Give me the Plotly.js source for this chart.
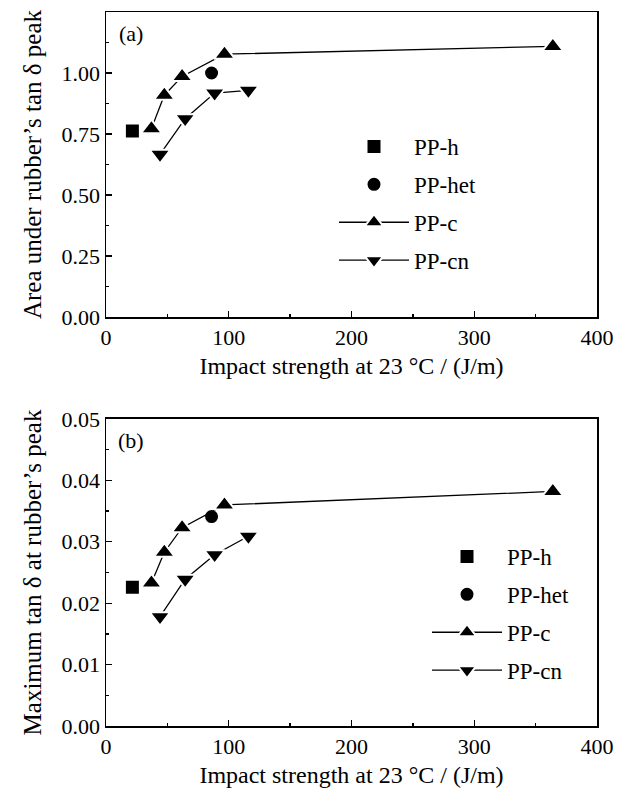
<!DOCTYPE html>
<html>
<head>
<meta charset="utf-8">
<script src="https://cdn.plot.ly/plotly-3.0.1.min.js"></script>
<style>html,body{margin:0;padding:0;background:#fff;}#chart{width:624px;height:797px;}</style>
</head>
<body>
<div id="chart"></div>
<script>
// ---- data ----
const ppH_x = [21.5];
const ppHet_x = [86];
const ppC_x = [37, 47.5, 62, 96.5, 364];
const ppCn_x = [44, 64.5, 88.5, 116];

// panel (a): area under rubber's tan delta peak
const a_ppH = [0.762];
const a_ppHet = [1.0];
const a_ppC = [0.772, 0.909, 0.986, 1.077, 1.109];
const a_ppCn = [0.667, 0.813, 0.918, 0.929];

// panel (b): maximum tan delta at rubber's peak
const b_ppH = [0.0226];
const b_ppHet = [0.0341];
const b_ppC = [0.0233, 0.0283, 0.0323, 0.0360, 0.0382];
const b_ppCn = [0.0178, 0.0239, 0.0279, 0.0309];

const names = ['PP-h', 'PP-het', 'PP-c', 'PP-cn'];
const xTitle = 'Impact strength at 23 °C / (J/m)';
const yTitleA = 'Area under rubber’s tan δ peak';
const yTitleB = 'Maximum tan δ at rubber’s peak';

const FONT = 'Liberation Serif, Times New Roman, serif';
const mk = (sym, size) => ({symbol: sym, size: size, color: '#000', line: {color: '#fff', width: 2}});

function traces(xa, ya, leg, yH, yHet, yC, yCn) {
  return [
    {x: ppH_x, y: yH, name: names[0], mode: 'markers', marker: mk('square', 15), xaxis: xa, yaxis: ya, legend: leg, legendgroup: leg + '1'},
    {x: ppHet_x, y: yHet, name: names[1], mode: 'markers', marker: mk('circle', 15), xaxis: xa, yaxis: ya, legend: leg, legendgroup: leg + '2'},
    {x: ppC_x, y: yC, name: names[2], mode: 'lines+markers', line: {color: '#000', width: 1.3}, marker: mk('triangle-up', 18), xaxis: xa, yaxis: ya, legend: leg, legendgroup: leg + '3'},
    {x: ppCn_x, y: yCn, name: names[3], mode: 'lines+markers', line: {color: '#000', width: 1.3}, marker: mk('triangle-down', 18), xaxis: xa, yaxis: ya, legend: leg, legendgroup: leg + '4'}
  ];
}

const data = [].concat(
  traces('x', 'y', 'legend', a_ppH, a_ppHet, a_ppC, a_ppCn),
  traces('x2', 'y2', 'legend2', b_ppH, b_ppHet, b_ppC, b_ppCn)
);

const axisCommon = {
  showgrid: false, zeroline: false, showline: true, mirror: true,
  linecolor: '#000', linewidth: 1.5,
  ticks: 'inside', ticklen: 6, tickwidth: 1.3, tickcolor: '#000',
  tickfont: {family: FONT, size: 22, color: '#000'},
  minor: {ticks: 'inside', ticklen: 3, tickwidth: 1.3, tickcolor: '#000'}
};

const xAxis = (anchor) => Object.assign({}, axisCommon, {
  range: [0, 400], tickvals: [0, 100, 200, 300, 400], anchor: anchor,
  minor: Object.assign({}, axisCommon.minor, {dtick: 50, tick0: 0}),
  title: {text: xTitle, font: {family: FONT, size: 24, color: '#000'}, standoff: 8}
});

const legendCommon = {xanchor: 'left', yanchor: 'top', bgcolor: 'rgba(0,0,0,0)',
  font: {family: FONT, size: 23, color: '#000'}, itemwidth: 70, tracegroupgap: 5};

const layout = {
  width: 624, height: 797,
  margin: {l: 106, r: 27, t: 12, b: 71},
  paper_bgcolor: '#fff', plot_bgcolor: '#fff',
  font: {family: FONT, color: '#000'},
  xaxis: xAxis('y'),
  xaxis2: xAxis('y2'),
  yaxis: Object.assign({}, axisCommon, {
    domain: [0.5728, 1], range: [0, 1.25], tickvals: [0, 0.25, 0.5, 0.75, 1.0, 1.25],
    ticktext: ['0.00', '0.25', '0.50', '0.75', '1.00', '1.25'], anchor: 'x',
    minor: Object.assign({}, axisCommon.minor, {dtick: 0.125, tick0: 0}),
    title: {text: yTitleA, font: {family: FONT, size: 25, color: '#000'}, standoff: 13}
  }),
  yaxis2: Object.assign({}, axisCommon, {
    domain: [0, 0.43], range: [0, 0.05], tickvals: [0, 0.01, 0.02, 0.03, 0.04, 0.05],
    ticktext: ['0.00', '0.01', '0.02', '0.03', '0.04', '0.05'], anchor: 'x2',
    minor: Object.assign({}, axisCommon.minor, {dtick: 0.005, tick0: 0}),
    title: {text: yTitleB, font: {family: FONT, size: 25, color: '#000'}, standoff: 13}
  }),
  legend: Object.assign({}, legendCommon, {x: (334 - 106) / 491, y: (726 - 125) / 714}),
  legend2: Object.assign({}, legendCommon, {x: (427 - 106) / 491, y: (726 - 535) / 714}),
  annotations: [
    {text: '(a)', xref: 'paper', yref: 'paper', x: (131 - 106) / 491, y: (726 - 33) / 714,
      xanchor: 'center', yanchor: 'middle', showarrow: false,
      font: {family: FONT, size: 22, color: '#000'}},
    {text: '(b)', xref: 'paper', yref: 'paper', x: (131 - 106) / 491, y: (726 - 440) / 714,
      xanchor: 'center', yanchor: 'middle', showarrow: false,
      font: {family: FONT, size: 22, color: '#000'}}
  ],
  showlegend: true
};

Plotly.newPlot('chart', data, layout, {staticPlot: true, displayModeBar: false});
</script>
</body>
</html>
